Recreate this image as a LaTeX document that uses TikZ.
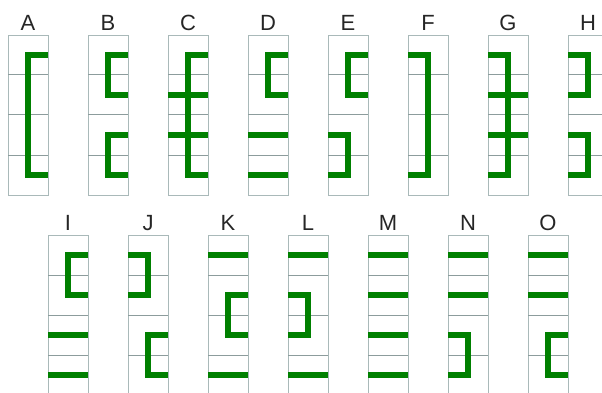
\documentclass[tikz,border=0pt]{standalone}
\usepackage{fontspec}
\setmainfont{Liberation Sans}
\usepackage{xcolor}
\usepackage{tikz}
\usetikzlibrary{positioning}

\definecolor{cellgray}{HTML}{A9B9B9}
\definecolor{gridgray}{HTML}{8C9C9C}
\definecolor{barGreen}{HTML}{008000}

\begin{document}
\begin{tikzpicture}[
       x=1pt, y=-1pt,
       cell/.style={
           draw=cellgray,
           line width=0.9pt,
           minimum width=40pt,
           minimum height=160pt,
           inner sep=0pt
       },
       grid/.style={draw=gridgray, line width=1pt},
       bar/.style={draw=barGreen, line width=6pt, line join=miter},
       letter/.style={
           font=\fontsize{22}{22}\selectfont,
           text=black!85,
           inner sep=0pt
       }
   ]

   \clip (0,0) rectangle (602,393);

   % Top row
   \begin{scope}[shift={(8,35)}]
      \node[cell] (boxA) at (20,80) {};
      \foreach \y in {40,80,120} \draw[grid] (0,\y) -- (40,\y);
      \node[letter, above=3.5pt of boxA] (A) {A};
      \draw[bar] (40,20) -- (20,20) -- (20,140) -- (40,140);
   \end{scope}

   \begin{scope}[shift={(88,35)}]
      \node[cell] (boxB) at (20,80) {};
      \foreach \y in {40,80,120} \draw[grid] (0,\y) -- (40,\y);
      \node[letter, above=3.5pt of boxB] (B) {B};
      \draw[bar] (40,20) -- (20,20) -- (20,60) -- (40,60);
      \draw[bar] (40,100) -- (20,100) -- (20,140) -- (40,140);
   \end{scope}

   \begin{scope}[shift={(168,35)}]
      \node[cell] (boxC) at (20,80) {};
      \foreach \y in {40,80,120} \draw[grid] (0,\y) -- (40,\y);
      \node[letter, above=3.5pt of boxC] (C) {C};
      \draw[bar] (40,20) -- (20,20) -- (20,140) -- (40,140);
      \draw[bar] (0,60) -- (40,60);
      \draw[bar] (0,100) -- (40,100);
   \end{scope}

   \begin{scope}[shift={(248,35)}]
      \node[cell] (boxD) at (20,80) {};
      \foreach \y in {40,80,120} \draw[grid] (0,\y) -- (40,\y);
      \node[letter, above=3.5pt of boxD] (D) {D};
      \draw[bar] (40,20) -- (20,20) -- (20,60) -- (40,60);
      \draw[bar] (0,100) -- (40,100);
      \draw[bar] (0,140) -- (40,140);
   \end{scope}

   \begin{scope}[shift={(328,35)}]
      \node[cell] (boxE) at (20,80) {};
      \foreach \y in {40,80,120} \draw[grid] (0,\y) -- (40,\y);
      \node[letter, above=3.5pt of boxE] (E) {E};
      \draw[bar] (40,20) -- (20,20) -- (20,60) -- (40,60);
      \draw[bar] (0,100) -- (20,100) -- (20,140) -- (0,140);
   \end{scope}

   \begin{scope}[shift={(408,35)}]
      \node[cell] (boxF) at (20,80) {};
      \foreach \y in {40,80,120} \draw[grid] (0,\y) -- (40,\y);
      \node[letter, above=3.5pt of boxF] (F) {F};
      \draw[bar] (0,20) -- (20,20) -- (20,140) -- (0,140);
   \end{scope}

   \begin{scope}[shift={(488,35)}]
      \node[cell] (boxG) at (20,80) {};
      \foreach \y in {40,80,120} \draw[grid] (0,\y) -- (40,\y);
      \node[letter, above=3.5pt of boxG] (G) {G};
      \draw[bar] (0,20) -- (20,20) -- (20,140) -- (0,140);
      \draw[bar] (0,60) -- (40,60);
      \draw[bar] (0,100) -- (40,100);
   \end{scope}

   \begin{scope}[shift={(568,35)}]
      \node[cell] (boxH) at (20,80) {};
      \foreach \y in {40,80,120} \draw[grid] (0,\y) -- (40,\y);
      \node[letter, above=3.5pt of boxH] (H) {H};
      \draw[bar] (0,20) -- (20,20) -- (20,60) -- (0,60);
      \draw[bar] (0,100) -- (20,100) -- (20,140) -- (0,140);
   \end{scope}

   % Bottom row
   \begin{scope}[shift={(48,235)}]
      \node[cell] (boxI) at (20,80) {};
      \foreach \y in {40,80,120} \draw[grid] (0,\y) -- (40,\y);
      \node[letter, above=3.5pt of boxI] (I) {I};
      \draw[bar] (40,20) -- (20,20) -- (20,60) -- (40,60);
      \draw[bar] (0,100) -- (40,100);
      \draw[bar] (0,140) -- (40,140);
   \end{scope}

   \begin{scope}[shift={(128,235)}]
      \node[cell] (boxJ) at (20,80) {};
      \foreach \y in {40,80,120} \draw[grid] (0,\y) -- (40,\y);
      \node[letter, above=3.5pt of boxJ] (J) {J};
      \draw[bar] (0,20) -- (20,20) -- (20,60) -- (0,60);
      \draw[bar] (40,100) -- (20,100) -- (20,140) -- (40,140);
   \end{scope}

   \begin{scope}[shift={(208,235)}]
      \node[cell] (boxK) at (20,80) {};
      \foreach \y in {40,80,120} \draw[grid] (0,\y) -- (40,\y);
      \node[letter, above=3.5pt of boxK] (K) {K};
      \draw[bar] (0,20) -- (40,20);
      \draw[bar] (40,60) -- (20,60) -- (20,100) -- (40,100);
      \draw[bar] (0,140) -- (40,140);
   \end{scope}

   \begin{scope}[shift={(288,235)}]
      \node[cell] (boxL) at (20,80) {};
      \foreach \y in {40,80,120} \draw[grid] (0,\y) -- (40,\y);
      \node[letter, above=3.5pt of boxL] (L) {L};
      \draw[bar] (0,20) -- (40,20);
      \draw[bar] (0,60) -- (20,60) -- (20,100) -- (0,100);
      \draw[bar] (0,140) -- (40,140);
   \end{scope}

   \begin{scope}[shift={(368,235)}]
      \node[cell] (boxM) at (20,80) {};
      \foreach \y in {40,80,120} \draw[grid] (0,\y) -- (40,\y);
      \node[letter, above=3.5pt of boxM] (M) {M};
      \foreach \y in {20,60,100,140} \draw[bar] (0,\y) -- (40,\y);
   \end{scope}

   \begin{scope}[shift={(448,235)}]
      \node[cell] (boxN) at (20,80) {};
      \foreach \y in {40,80,120} \draw[grid] (0,\y) -- (40,\y);
      \node[letter, above=3.5pt of boxN] (N) {N};
      \draw[bar] (0,20) -- (40,20);
      \draw[bar] (0,60) -- (40,60);
      \draw[bar] (0,100) -- (20,100) -- (20,140) -- (0,140);
   \end{scope}

   \begin{scope}[shift={(528,235)}]
      \node[cell] (boxO) at (20,80) {};
      \foreach \y in {40,80,120} \draw[grid] (0,\y) -- (40,\y);
      \node[letter, above=3.5pt of boxO] (O) {O};
      \draw[bar] (0,20) -- (40,20);
      \draw[bar] (0,60) -- (40,60);
      \draw[bar] (40,100) -- (20,100) -- (20,140) -- (40,140);
   \end{scope}

   \end{tikzpicture}
\end{document}
